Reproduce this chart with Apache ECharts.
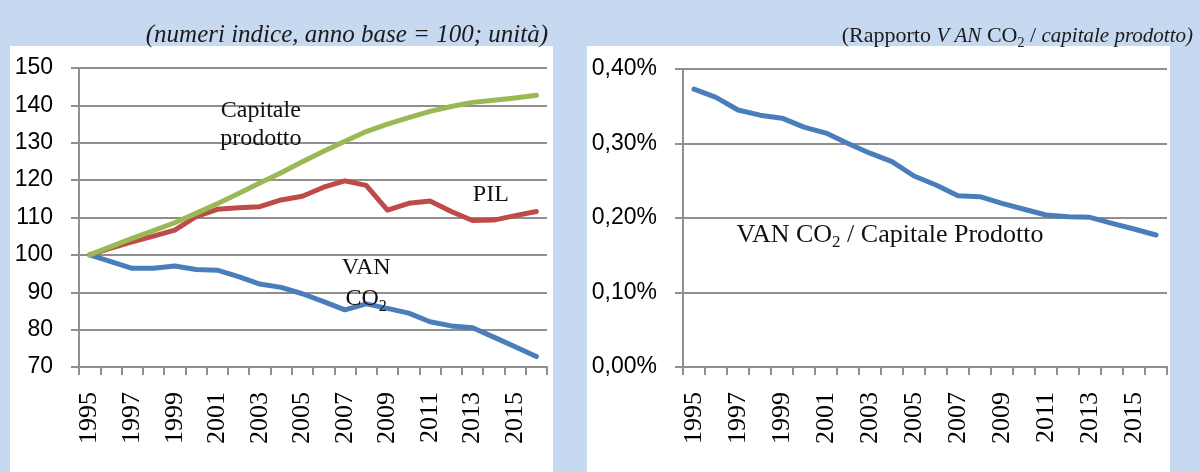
<!DOCTYPE html>
<html>
<head>
<meta charset="utf-8">
<script src="https://cdn.jsdelivr.net/npm/echarts@6/dist/echarts.min.js"></script>
<style>
  html, body { margin: 0; padding: 0; background: #c6d9f0; }
  #chart { width: 1199px; height: 472px; }
</style>
</head>
<body>
<div id="chart"></div>
<script>
// Years on the horizontal axis of both panels
const years = ['1995','1996','1997','1998','1999','2000','2001','2002','2003','2004','2005',
               '2006','2007','2008','2009','2010','2011','2012','2013','2014','2015','2016'];

// Left panel: index numbers, 1995 = 100
const vanCo2Index   = [100, 98.2, 96.4, 96.4, 97.0, 96.1, 95.9, 94.2, 92.2, 91.3, 89.6,
                       87.5, 85.3, 86.9, 85.7, 84.4, 82.1, 81.0, 80.5, 78.0, 75.4, 72.8];
const pilIndex      = [100, 101.8, 103.5, 105.0, 106.6, 110.2, 112.2, 112.6, 112.9, 114.7, 115.7,
                       118.1, 119.8, 118.6, 112.0, 113.8, 114.4, 111.6, 109.2, 109.3, 110.5, 111.6];
const capitaleIndex = [100, 102.2, 104.4, 106.5, 108.6, 111.1, 113.7, 116.4, 119.2, 122.0, 124.9,
                       127.7, 130.4, 133.0, 135.0, 136.7, 138.4, 139.7, 140.8, 141.4, 142.0, 142.7];

// Right panel: VAN CO2 / capitale prodotto, in percent
const rapportoPct = [0.373, 0.362, 0.345, 0.338, 0.334, 0.322, 0.314, 0.300, 0.287, 0.2756, 0.2564,
                     0.2443, 0.2299, 0.2286, 0.2197, 0.2117, 0.2040, 0.2017, 0.2009, 0.1929, 0.1852, 0.1772];

// Axis ranges
const leftAxis  = { min: 70, max: 150, interval: 10 };
const rightAxis = { min: 0, max: 0.4, interval: 0.1 };

const COL_BLUE = '#4a7ebb', COL_RED = '#be4b48', COL_GREEN = '#98b954';
const GRID_COL = '#8f8f8f';
const SANS = 'Liberation Sans';
const SERIF = 'Liberation Serif';
const INK = '#111';

const chart = echarts.init(document.getElementById('chart'), null, { renderer: 'canvas' });

function catAxis(gridIndex) {
  return {
    type: 'category', gridIndex, data: years, boundaryGap: true,
    axisLine: { show: true, lineStyle: { color: GRID_COL, width: 2 } },
    axisTick: { show: true, interval: 0, length: 8, lineStyle: { color: GRID_COL, width: 2 } },
    axisLabel: { interval: 1, rotate: 90, margin: 25, color: '#000',
                 fontFamily: SERIF, fontSize: 26 },
    splitLine: { show: false }
  };
}
function valAxis(gridIndex, range, fmt) {
  return {
    type: 'value', gridIndex, min: range.min, max: range.max, interval: range.interval,
    axisLine: { show: true, lineStyle: { color: GRID_COL, width: 2 } },
    axisTick: { show: true, length: 8, lineStyle: { color: GRID_COL, width: 2 } },
    axisLabel: { margin: 26, color: '#000', fontFamily: SANS, fontSize: 23, formatter: fmt },
    splitLine: { show: true, lineStyle: { color: GRID_COL, width: 2 } }
  };
}
function lineSeries(name, data, color, xi, extra) {
  return Object.assign({
    type: 'line', name, data, xAxisIndex: xi, yAxisIndex: xi,
    symbol: 'none', smooth: false, animation: false,
    lineStyle: { color, width: 5, cap: 'round', join: 'round' }
  }, extra || {});
}
// Text placed at a data coordinate through the series' own axes
function note(coord, text, offset, rich, size) {
  return {
    symbol: 'circle', symbolSize: 1, silent: true, animation: false,
    itemStyle: { color: 'rgba(0,0,0,0)' },
    label: { show: true, position: 'inside', offset: offset || [0, 0],
             formatter: text, color: INK, fontFamily: SERIF, fontSize: size || 24, fontWeight: 'normal',
             align: 'center', verticalAlign: 'middle', rich: rich || {} },
    data: [{ coord }]
  };
}

function subRich(size, lh) {
  return {
    t: { fontFamily: SERIF, fontSize: size, lineHeight: lh, color: INK },
    s: { fontFamily: SERIF, fontSize: Math.round(size * 0.66), lineHeight: Math.round(lh * 0.48),
         verticalAlign: 'bottom', color: INK }
  };
}

const option = {
  backgroundColor: '#c6d9f0',
  animation: false,
  graphic: [
    { type: 'rect', shape: { x: 10, y: 46, width: 543, height: 426 }, style: { fill: '#ffffff' }, z: -10 },
    { type: 'rect', shape: { x: 587, y: 46, width: 583, height: 426 }, style: { fill: '#ffffff' }, z: -10 }
  ],
  title: [
    { text: '(numeri indice, anno base = 100; unità)', right: 651, top: 23, padding: 0,
      textStyle: { fontFamily: SERIF, fontStyle: 'italic', fontWeight: 'normal', fontSize: 25, color: '#1a1a1a' } },
    { text: '{n|(Rapporto }{i|V AN}{n| CO}{s|2}{n| / }{i|capitale prodotto)}', right: 6, top: 22, padding: 0,
      textStyle: { fontFamily: SERIF, fontWeight: 'normal', fontSize: 21, color: '#1a1a1a',
        rich: {
          n: { fontFamily: SERIF, fontWeight: 'normal', fontSize: 22, lineHeight: 28, color: '#1a1a1a' },
          i: { fontFamily: SERIF, fontWeight: 'normal', fontStyle: 'italic', fontSize: 21, lineHeight: 28, color: '#1a1a1a' },
          s: { fontFamily: SERIF, fontWeight: 'normal', fontSize: 14, lineHeight: 13, verticalAlign: 'bottom', color: '#1a1a1a' }
        } } }
  ],
  grid: [
    { left: 79, right: 652, top: 68, bottom: 105, containLabel: false },
    { left: 683, right: 32, top: 69, bottom: 105, containLabel: false }
  ],
  xAxis: [catAxis(0), catAxis(1)],
  yAxis: [
    valAxis(0, leftAxis, v => String(v)),
    valAxis(1, rightAxis, v => v.toFixed(2).replace('.', ',') + '%')
  ],
  series: [
    lineSeries('VAN CO2', vanCo2Index, COL_BLUE, 0, {
      markPoint: note([13, 92.3], '{t|VAN}\n{t|CO}{s|2}', [0, 0], subRich(24, 31))
    }),
    lineSeries('PIL', pilIndex, COL_RED, 0, {
      markPoint: note([19, 116.2], 'PIL', [-3, 0])
    }),
    lineSeries('Capitale prodotto', capitaleIndex, COL_GREEN, 0, {
      markPoint: note([8, 134.7], '{t|Capitale}\n{t|prodotto}', [1, 0],
        { t: { fontFamily: SERIF, fontSize: 24, lineHeight: 28, color: INK } })
    }),
    lineSeries('VAN CO2 / Capitale Prodotto', rapportoPct, COL_BLUE, 1, {
      markPoint: note([9, 0.177], '{t|VAN CO}{s|2}{t| / Capitale Prodotto}', [-2, 0], subRich(26, 31), 26)
    })
  ]
};

chart.setOption(option);
</script>
</body>
</html>
